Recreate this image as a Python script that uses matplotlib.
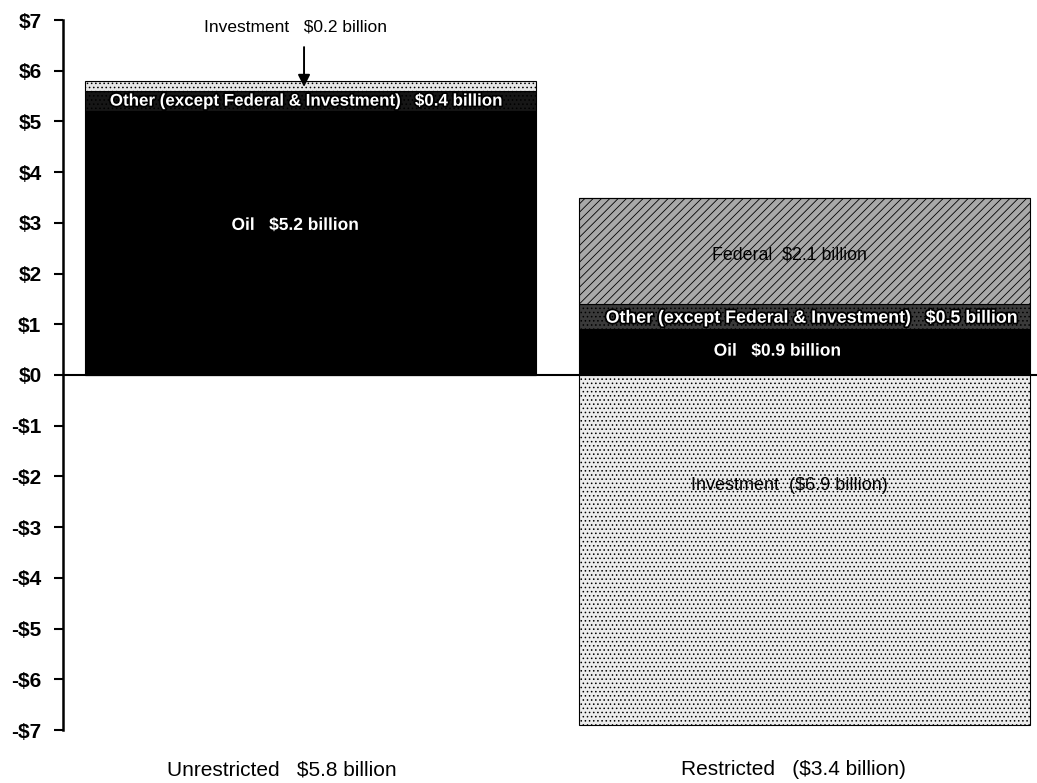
import matplotlib
matplotlib.use("Agg")
import matplotlib.pyplot as plt
import matplotlib.patheffects as pe
import numpy as np

plt.rcParams["font.family"] = ["Liberation Sans Narrow", "Liberation Sans", "DejaVu Sans"]
plt.rcParams["hatch.linewidth"] = 0.6

# data (billions of dollars)
categories = ["Unrestricted   $5.8 billion", "Restricted   ($3.4 billion)"]
oil = [5.2, 0.9]
other = [0.4, 0.5]
federal = [0.0, 2.1]
investment = [0.2, -6.9]
yticks = list(range(-7, 8))

fig = plt.figure(figsize=(10.37, 7.83), dpi=100)
ax = fig.add_axes([63 / 1037, 53 / 783, 1 - 63 / 1037, 710 / 783])

x = np.arange(len(categories))
width = 0.913

oil = np.array(oil)
other = np.array(other)
federal = np.array(federal)
investment = np.array(investment)

ax.bar(x, oil, width, color="black", linewidth=0.8, zorder=2)
ax.bar(x, other, width, bottom=oil, color=["#161616", "#3a3a3a"],
       linewidth=0.8, hatch="....", zorder=2)
ax.bar(x, federal, width, bottom=oil + other, color="#a9a9a9",
       hatch="////", linewidth=0.8, zorder=2)
pos_inv = np.where(investment > 0, investment, 0)
neg_inv = np.where(investment < 0, investment, 0)
ax.bar(x, pos_inv, width, bottom=oil + other + federal, color="#e6e6e6",
       linewidth=0.8, hatch="....", zorder=2)
ax.bar(x, neg_inv, width, color="#ececec", linewidth=0.8, hatch="....", zorder=2)
for p in ax.patches:
    p.set_edgecolor("black")

ax.axhline(0, color="black", linewidth=1.5, zorder=3)

outline = [pe.withStroke(linewidth=2.5, foreground="black")]
white_kw = dict(color="white", ha="center", va="center",
                path_effects=outline, zorder=5, fontweight="bold")

ax.text(-0.01, 5.4, f"Other (except Federal & Investment)   ${other[0]:.1f} billion",
        fontsize=12.2, **white_kw)
ax.text(-0.03, 2.95, f"Oil   ${oil[0]:.1f} billion", fontsize=12.5, **white_kw)
ax.text(1.015, 1.12, f"Other (except Federal & Investment)   ${other[1]:.1f} billion",
        fontsize=12.8, **white_kw)
ax.text(0.946, 0.47, f"Oil   ${oil[1]:.1f} billion", fontsize=12.5, **white_kw)

ax.text(0.97, 2.37, f"Federal  ${federal[1]:.1f} billion", fontsize=12.8,
        ha="center", va="center", color="black", zorder=5)
ax.text(0.97, -2.18, f"Investment  (${-investment[1]:.1f} billion)", fontsize=13,
        ha="center", va="center", color="black", zorder=5)

ax.annotate(f"Investment   ${investment[0]:.1f} billion", xy=(-0.013, 5.68),
            xytext=(-0.03, 6.86), ha="center", va="center", fontsize=12.5,
            arrowprops=dict(arrowstyle="-|>", color="black", lw=1.4,
                            mutation_scale=18, shrinkA=7, shrinkB=0,
                            relpos=(0.546, 0.5)),
            zorder=6)

for xi, lab in zip([-0.057, 0.977], categories):
    ax.text(xi, -0.056, lab, transform=ax.get_xaxis_transform(),
            ha="center", va="center", fontsize=15)

ax.set_xlim(-0.501, 1.471)
ax.set_ylim(-7, 7)
ax.set_yticks(yticks)
ax.set_yticklabels([f"${v}" if v >= 0 else f"-${-v}" for v in yticks],
                   fontweight="bold")
ax.tick_params(axis="y", direction="out", length=6.5, width=1.5, labelsize=15, pad=9)
ax.set_xticks([])
for s in ["top", "right", "bottom"]:
    ax.spines[s].set_visible(False)
ax.spines["left"].set_linewidth(1.8)
ax.patch.set_alpha(0)

fig.savefig("out.png", dpi=100)
